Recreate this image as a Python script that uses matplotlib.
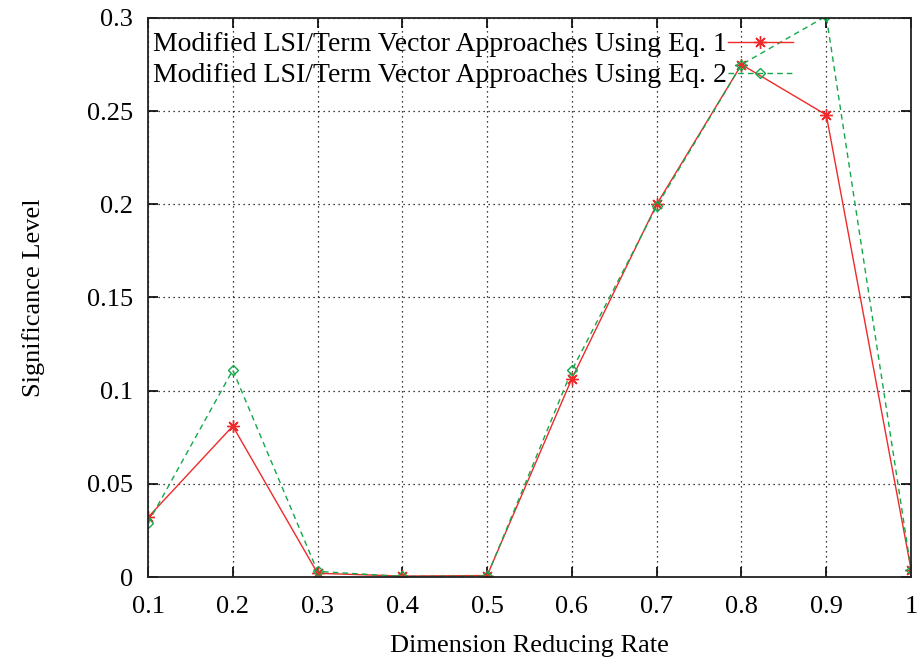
import numpy as np
import matplotlib.pyplot as plt
from matplotlib.ticker import FixedLocator

plt.rcParams['font.family'] = ['Liberation Serif', 'DejaVu Serif']

# dane
rate = [0.1, 0.2, 0.3, 0.4, 0.5, 0.6, 0.7, 0.8, 0.9, 1.0]
eq1 = [0.032, 0.081, 0.002, 0.0005, 0.0008, 0.1065, 0.200, 0.275, 0.248, 0.004]
eq2 = [0.029, 0.111, 0.003, 0.0003, 0.0005, 0.111, 0.199, 0.275, 0.301, 0.004]

xticks = [0.1, 0.2, 0.3, 0.4, 0.5, 0.6, 0.7, 0.8, 0.9, 1.0]
xlabels = ["0.1", "0.2", "0.3", "0.4", "0.5", "0.6", "0.7", "0.8", "0.9", "1"]
yticks = [0, 0.05, 0.1, 0.15, 0.2, 0.25, 0.3]
ylabels = ["0", "0.05", "0.1", "0.15", "0.2", "0.25", "0.3"]

fig = plt.figure(figsize=(9.21, 6.63), dpi=100)
ax = fig.add_axes([0.1607, 0.1297, 0.8285, 0.8432])

ax.plot(rate, eq1, color='#ee2a2a', lw=1.0, marker=(8, 2, 0), ms=9, mew=1.0,
        label="Modified LSI/Term Vector Approaches Using Eq. 1")
ax.plot(rate, eq2, color='#14a84a', lw=1.0, ls=(0, (4, 3)), marker='D', ms=5.5,
        mfc='none', mew=1.0,
        label="Modified LSI/Term Vector Approaches Using Eq. 2")

ax.set_xlim(0.1, 1.0)
ax.set_ylim(0, 0.3)
ax.xaxis.set_major_locator(FixedLocator(xticks))
ax.yaxis.set_major_locator(FixedLocator(yticks))
ax.set_xticklabels(xlabels, fontsize=19)
ax.set_yticklabels(ylabels, fontsize=19)
ax.tick_params(direction='in', length=7, width=1.2, top=True, right=True)
ax.tick_params(axis='x', pad=14)
ax.tick_params(axis='y', pad=11)

ax.grid(True, color='black', ls=(0, (1, 3)), lw=0.9)
for s in ax.spines.values():
    s.set_linewidth(1.3)
    s.set_color('#222222')

ax.set_xlabel("Dimension Reducing Rate", fontsize=19, labelpad=12)
ax.set_ylabel("Significance Level", fontsize=19, labelpad=30)

leg = ax.legend(loc='upper left', frameon=False, markerfirst=False, fontsize=20,
                handlelength=2.35, borderpad=0, borderaxespad=0, handletextpad=0.05,
                labelspacing=0.2, bbox_to_anchor=(0.006, 0.975))

plt.savefig("out.png", dpi=100)
